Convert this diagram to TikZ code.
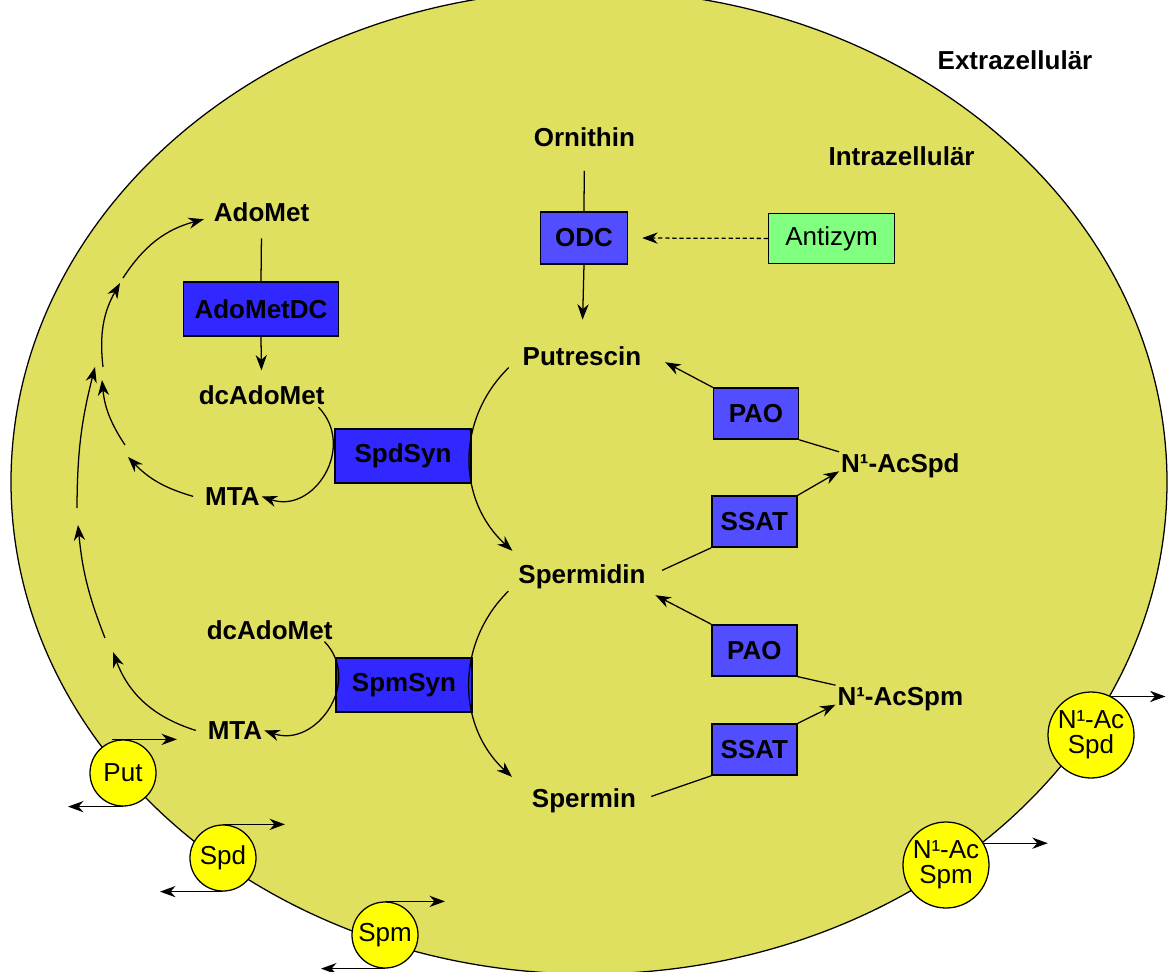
\documentclass[tikz,border=0pt]{standalone}
\usepackage{fontspec}
\setmainfont{Liberation Sans}
\usetikzlibrary{arrows.meta}

\definecolor{cellyellow}{RGB}{224,224,96}
\definecolor{enzdark}{RGB}{48,40,255}
\definecolor{enzlight}{RGB}{82,78,255}
\definecolor{antigreen}{RGB}{128,255,128}
\definecolor{portyellow}{RGB}{255,255,0}

\newcommand{\lblfont}{\fontsize{18.5}{18}\selectfont}

\tikzset{
  metab/.style={inner sep=1pt, font=\lblfont\bfseries},
  enzbox/.style={draw, line width=1pt, fill=enzdark, minimum width=3.4cm,
    minimum height=1.35cm, font=\lblfont\bfseries},
  enzsmall/.style={enzbox, fill=enzlight, minimum width=2.125cm, minimum height=1.275cm},
  porter/.style={circle, draw, line width=0.9pt, fill=portyellow, inner sep=0pt,
    minimum size=1.65cm, align=center, font=\lblfont},
}

\begin{document}
\begin{tikzpicture}[>={Stealth[length=11pt,width=8pt,inset=3.5pt]}, line width=0.9pt]
    \useasboundingbox (0,0) rectangle (29.2,-24.3);

    % Zelle
    \draw[fill=cellyellow] (14.725,-12.05) ellipse (14.45 and 12.3);

    \node[metab] (extra) at (25.375,-1.5) {Extrazellulär};
    \node[metab] (intra) at (22.54,-3.9) {Intrazellulär};

    % Ornithin -> Putrescin
    \node[metab] (orn) at (14.61,-3.425) {Ornithin};
    \node[enzsmall, minimum width=2.175cm, minimum height=1.3cm] (odc) at (14.6,-5.95) {ODC};
    \node[draw, line width=1pt, fill=antigreen, minimum width=3.15cm, minimum height=1.25cm,
      font=\lblfont] (anti) at (20.79,-5.96) {Antizym};
    \node[metab] (putr) at (14.55,-8.9) {Putrescin};

    % AdoMet-Zweig
    \node[metab] (adomet) at (6.54,-5.3) {AdoMet};
    \node[enzbox, minimum width=3.875cm] (adodc) at (6.525,-7.725) {AdoMetDC};
    \node[metab] (dc1) at (6.54,-9.89) {dcAdoMet};
    \node[metab] (mta1) at (5.81,-12.41) {MTA};
    \node[enzbox] (spdsyn) at (10.075,-11.4) {SpdSyn};
    \node[metab] (sperd) at (14.55,-14.425) {Spermidin};

    \node[metab] (dc2) at (6.74,-15.75) {dcAdoMet};
    \node[metab] (mta2) at (5.875,-18.26) {MTA};
    \node[enzbox] (spmsyn) at (10.1,-17.125) {SpmSyn};
    \node[metab] (sperm) at (14.6,-20.025) {Spermin};

    % Rueckweg
    \node[enzsmall] (pao1) at (18.9,-10.34) {PAO};
    \node[metab] (n1spd) at (22.51,-11.65) {N¹-AcSpd};
    \node[enzsmall] (ssat1) at (18.86,-13.04) {SSAT};
    \node[enzsmall] (pao2) at (18.86,-16.26) {PAO};
    \node[metab] (n1spm) at (22.51,-17.475) {N¹-AcSpm};
    \node[enzsmall] (ssat2) at (18.86,-18.74) {SSAT};

    % Transporter
    \node[porter] (tput) at (3.075,-19.325) {Put};
    \node[porter] (tspd) at (5.575,-21.45) {Spd};
    \node[porter] (tspm) at (9.625,-23.375) {Spm};
    \node[porter, minimum size=2.15cm] (tn1spd) at (27.275,-18.375) {N¹-Ac\\Spd};
    \node[porter, minimum size=2.15cm] (tn1spm) at (23.65,-21.625) {N¹-Ac\\Spm};

    \draw[shorten <=0.56cm] (orn.south) -- (odc.north);
    \draw[->, shorten >=0.62cm] (odc.south) -- (putr.north);
    \draw[->, densely dashed, shorten >=0.35cm] (anti.west) -- (odc.east);

    \draw[shorten <=0.37cm] (adomet.south) -- (adodc.north);
    \draw[->, shorten >=0.34cm] (adodc.south) -- (dc1.north);

    \draw[->] ([xshift=-0.2cm]dc1.south east) .. controls +(0.96,-1.0) and +(1.3,-0.45) .. (mta1.east);
    \draw[->] ([xshift=-0.25cm]dc2.south east) .. controls +(0.96,-1.0) and +(1.3,-0.45) .. (mta2.east);

    \draw[->] ([xshift=-0.3cm]putr.south west) .. controls +(-1.33,-1.31) and +(-1.38,1.26) .. ([shift={(-0.1,0.3)}]sperd.north west);
    \draw[->] ([xshift=-0.2cm]sperd.south west) .. controls +(-1.33,-1.31) and +(-1.38,1.26) .. ([shift={(-0.45,0.25)}]sperm.north west);

    % MTA -> AdoMet
    \coordinate (a1) at (3.2,-11.425);
    \coordinate (b0) at (3.125,-11.125);
    \coordinate (b1) at (2.55,-9.5);
    \coordinate (c0) at (2.575,-9.175);
    \coordinate (c1) at (3.0,-7.075);
    \coordinate (d0) at (3.075,-6.95);
    \coordinate (e1) at (2.825,-16.3);
    \coordinate (f0) at (2.625,-15.95);
    \coordinate (f1) at (1.95,-13.125);
    \coordinate (g0) at (1.925,-12.7);
    \coordinate (g1) at (2.375,-9.175);

    \draw[->] ([xshift=-0.25cm]mta1.west) to[bend left=15] (a1);
    \draw[->] (b0) to[bend left=14] (b1);
    \draw[->] (c0) to[bend left=18] (c1);
    \draw[->] (d0) to[bend left=21] ([shift={(-0.2,-0.18)}]adomet.west);
    \draw[->] ([xshift=-0.25cm]mta2.west) to[bend left=26] (e1);
    \draw[->] (f0) to[bend left=8] (f1);
    \draw[->] (g0) to[bend left=7] (g1);

    % Acetylierung und Oxidation
    \draw (n1spd.north west) -- (pao1.south east);
    \draw[->, shorten >=0.62cm] (pao1.north west) -- (putr.5);
    \draw[shorten <=0.4cm] (sperd.east) -- (ssat1.south west);
    \draw[->] (ssat1.north east) -- (n1spd.185);

    \draw (n1spm.north west) -- (pao2.south east);
    \draw[->, shorten >=0.22cm] (pao2.north west) -- (sperd.south east);
    \draw[shorten <=0.35cm] (sperm.east) -- (ssat2.south west);
    \draw[->] (ssat2.north east) -- (n1spm.185);

    % Transport
    \draw[->] ([xshift=-0.275cm]tput.north) -- ++(1.625,0);
    \draw[->] (tput.south) -- ++(-1.375,0);
    \draw[->] (tspd.north) -- ++(1.55,0);
    \draw[->] (tspd.south) -- ++(-1.575,0);
    \draw[->] (tspm.north) -- ++(1.5,0);
    \draw[->] (tspm.south) -- ++(-1.6,0);
    \draw[->] (tn1spd.62) -- ++(1.35,0);
    \draw[->] (tn1spm.30) -- ++(1.6,0);
\end{tikzpicture}
\end{document}
